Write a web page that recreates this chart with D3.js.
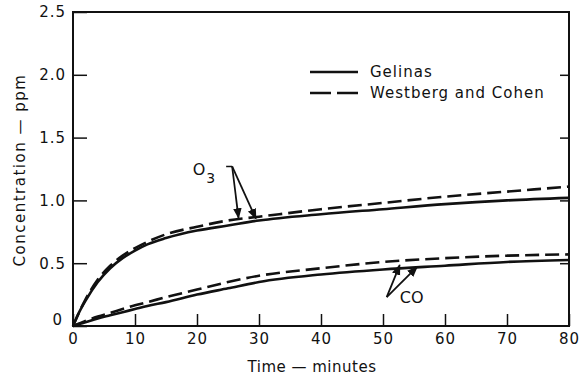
<!DOCTYPE html>
<html>
<head>
<meta charset="utf-8">
<script src="https://cdn.jsdelivr.net/npm/d3@7"></script>
<style>
  body { margin: 0; background: #fff; }
  svg text { font-family: "DejaVu Sans", sans-serif; fill: #111; }
</style>
</head>
<body>
<div id="chart"></div>
<script>
// time in minutes
const times = [0, 1, 2, 4, 6, 8, 10, 12, 15, 20, 25, 30, 40, 50, 60, 70, 80];
const o3Gelinas = [0, 0.11, 0.2, 0.35, 0.46, 0.54, 0.6, 0.65, 0.7, 0.76, 0.8, 0.84, 0.89, 0.93, 0.97, 1.0, 1.02];
const o3Westberg = [0, 0.11, 0.21, 0.37, 0.48, 0.56, 0.62, 0.67, 0.73, 0.79, 0.84, 0.87, 0.93, 0.98, 1.03, 1.07, 1.11];
const coGelinas = [0, 0.015, 0.03, 0.06, 0.085, 0.11, 0.135, 0.16, 0.19, 0.25, 0.3, 0.35, 0.41, 0.45, 0.48, 0.51, 0.525];
const coWestberg = [0, 0.02, 0.04, 0.075, 0.105, 0.135, 0.165, 0.19, 0.23, 0.29, 0.35, 0.4, 0.46, 0.51, 0.54, 0.56, 0.57];

const xTicks = [0, 10, 20, 30, 40, 50, 60, 70, 80];
const yTicks = [0, 0.5, 1.0, 1.5, 2.0, 2.5];
const yTickLabels = ['0', '0.5', '1.0', '1.5', '2.0', '2.5'];
const seriesNames = ['Gelinas', 'Westberg and Cohen'];

const width = 579, height = 379;
const margin = {top: 12, right: 10, bottom: 53, left: 73};
const w = width - margin.left - margin.right;
const h = height - margin.top - margin.bottom;

const svg = d3.select('#chart').append('svg')
  .attr('width', width)
  .attr('height', height);

const g = svg.append('g')
  .attr('transform', 'translate(' + margin.left + ',' + margin.top + ')');

const x = d3.scaleLinear().domain([0, 80]).range([0, w]);
const y = d3.scaleLinear().domain([0, 2.5]).range([h, 0]);

// ticks point inward
const axLeft = g.append('g')
  .call(d3.axisLeft(y).tickValues(yTicks).tickSize(-14).tickPadding(7)
    .tickFormat((d, i) => yTickLabels[i]));
const axBottom = g.append('g')
  .attr('transform', 'translate(0,' + h + ')')
  .call(d3.axisBottom(x).tickValues(xTicks).tickSize(-12).tickPadding(7));
g.append('g')
  .attr('transform', 'translate(' + w + ',0)')
  .call(d3.axisRight(y).tickValues(yTicks.slice(1, 5)).tickSize(-9).tickFormat(''));

g.selectAll('.domain').remove();
g.selectAll('.tick line').attr('stroke', '#111').attr('stroke-width', 1.5);
g.selectAll('.tick text')
  .style('font-size', '15px')
  .style('letter-spacing', '1px')
  .attr('fill', '#111');

axLeft.selectAll('.tick').filter(d => d === 0).select('text')
  .attr('dy', '-0.1em').attr('dx', -3);

g.append('rect')
  .attr('x', 0).attr('y', 0)
  .attr('width', w).attr('height', h)
  .attr('fill', 'none')
  .attr('stroke', '#111')
  .attr('stroke-width', 2);

const line = d3.line()
  .x((d, i) => x(times[i]))
  .y(d => y(d))
  .curve(d3.curveMonotoneX);

const curves = [
  {vals: o3Gelinas, dash: null},
  {vals: o3Westberg, dash: '14,6'},
  {vals: coGelinas, dash: null},
  {vals: coWestberg, dash: '14,6'}
];

g.selectAll('.curve')
  .data(curves)
  .enter().append('path')
  .attr('class', 'curve')
  .attr('d', d => line(d.vals))
  .attr('fill', 'none')
  .attr('stroke', '#111')
  .attr('stroke-width', 2.6)
  .attr('stroke-dasharray', d => d.dash);

// legend
const legend = svg.append('g').attr('transform', 'translate(310,72)');
seriesNames.forEach((name, i) => {
  legend.append('line')
    .attr('x1', 0).attr('x2', 48)
    .attr('y1', i * 21).attr('y2', i * 21)
    .attr('stroke', '#111').attr('stroke-width', 2.6)
    .attr('stroke-dasharray', i === 1 ? '21,6' : null);
  legend.append('text')
    .attr('x', 60).attr('y', i * 21 + 5)
    .style('font-size', '15px')
    .style('letter-spacing', '1px')
    .text(name);
});

// annotations with arrows
const defs = svg.append('defs');
defs.append('marker')
  .attr('id', 'arrow')
  .attr('viewBox', '0 0 10 10')
  .attr('refX', 9).attr('refY', 5)
  .attr('markerWidth', 6).attr('markerHeight', 6)
  .attr('orient', 'auto')
  .append('path').attr('d', 'M0,1 L10,5 L0,9 Z').attr('fill', '#111');

const o3Label = g.append('text')
  .attr('x', x(19.3)).attr('y', y(1.2))
  .style('font-size', '16px');
o3Label.append('tspan').text('O');
o3Label.append('tspan').attr('dy', 8).attr('dx', 1).style('font-size', '14px').text('3');

const o3Base = [x(24.7), y(1.27)];
g.append('path')
  .attr('d', 'M' + o3Base[0] + ',' + o3Base[1] + ' h6')
  .attr('stroke', '#111').attr('stroke-width', 1.5).attr('fill', 'none');
[[26.7, 0.86], [29.5, 0.855]].forEach(p => {
  g.append('line')
    .attr('x1', o3Base[0] + 6).attr('y1', o3Base[1])
    .attr('x2', x(p[0])).attr('y2', y(p[1]))
    .attr('stroke', '#111').attr('stroke-width', 1.8)
    .attr('marker-end', 'url(#arrow)');
});

g.append('text')
  .attr('x', x(52.7)).attr('y', y(0.23) + 6)
  .style('font-size', '16px')
  .text('CO');
const coBase = [x(50.6), y(0.23)];
[[52.7, 0.485], [55.5, 0.47]].forEach(p => {
  g.append('line')
    .attr('x1', coBase[0]).attr('y1', coBase[1])
    .attr('x2', x(p[0])).attr('y2', y(p[1]))
    .attr('stroke', '#111').attr('stroke-width', 1.8)
    .attr('marker-end', 'url(#arrow)');
});

// axis titles
svg.append('text')
  .attr('transform', 'translate(25,170) rotate(-90)')
  .attr('text-anchor', 'middle')
  .style('font-size', '15px')
  .style('letter-spacing', '1.5px')
  .text('Concentration \u2014 ppm');

svg.append('text')
  .attr('x', 312).attr('y', 372)
  .attr('text-anchor', 'middle')
  .style('font-size', '15px')
  .style('letter-spacing', '0.5px')
  .text('Time \u2014 minutes');
</script>
</body>
</html>
